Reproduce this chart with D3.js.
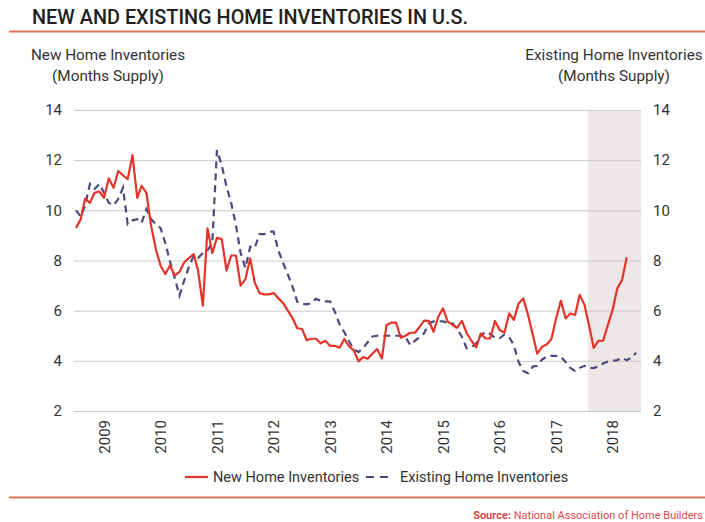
<!DOCTYPE html>
<html>
<head>
<meta charset="utf-8">
<script src="https://cdn.jsdelivr.net/npm/d3@7"></script>
<style>
  html, body { margin: 0; padding: 0; background: #fff; }
  svg { display: block; font-family: Roboto, "Open Sans", sans-serif; }
</style>
</head>
<body>
<svg id="chart" width="705" height="522"></svg>
<script>
// ---- data (monthly, starting Jan 2009) ----
const startYear = 2009;
const newHome = [
  9.3, 9.65, 10.47, 10.3, 10.7, 10.75, 10.5, 11.27, 10.9, 11.57, 11.4, 11.24,
  12.2, 10.5, 10.98, 10.7, 9.4, 8.45, 7.8, 7.46, 7.8, 7.4, 7.55, 7.92,
  8.1, 8.25, 7.6, 6.2, 9.28, 8.3, 8.9, 8.85, 7.6, 8.2, 8.2, 7.0,
  7.26, 8.08, 7.13, 6.7, 6.65, 6.65, 6.7, 6.5, 6.3, 6.0, 5.7, 5.3,
  5.27, 4.82, 4.88, 4.88, 4.7, 4.8, 4.6, 4.6, 4.52, 4.87, 4.58, 4.43,
  3.98, 4.15, 4.08, 4.28, 4.47, 4.09, 5.43, 5.52, 5.52, 4.92, 5.0, 5.12,
  5.12, 5.36, 5.6, 5.59, 5.16, 5.76, 6.09, 5.56, 5.43, 5.32, 5.59, 5.11,
  4.8, 4.54, 5.09, 4.89, 4.89, 5.59, 5.23, 5.13, 5.89, 5.63, 6.29, 6.49,
  5.83, 5.03, 4.29, 4.56, 4.65, 4.87, 5.69, 6.39, 5.69, 5.89, 5.83, 6.63,
  6.23, 5.36, 4.52, 4.8, 4.8, 5.43, 6.03, 6.89, 7.23, 8.13
];
const existingHome = [
  10.0, 9.75, 10.2, 11.05, 10.85, 11.05, 10.7, 10.3, 10.2, 10.45, 10.9, 9.45,
  9.6, 9.65, 9.5, 10.05, 9.65, 9.45, 9.3, 8.7, 7.95, 7.3, 6.6, 7.2,
  7.75, 8.2, 8.1, 8.3, 8.4, 8.7, 12.4, 11.8, 10.95, 10.3, 9.4, 8.3,
  7.7, 8.55, 8.5, 9.05, 9.05, 9.15, 9.15, 8.4, 7.9, 7.45, 6.95, 6.35,
  6.28, 6.25, 6.3, 6.47, 6.4, 6.37, 6.37, 5.96, 5.45, 5.15, 4.77, 4.47,
  4.35, 4.52, 4.74, 4.97, 5.0, 5.0, 5.0, 5.0, 5.0, 5.0, 4.95, 4.63,
  4.8, 4.95, 5.1, 5.49, 5.57, 5.58, 5.57, 5.52, 5.5, 5.27, 4.95, 4.5,
  4.53, 4.7, 5.0, 5.16, 5.07, 4.92, 4.9, 5.05, 4.95, 4.62, 3.95, 3.6,
  3.5, 3.77, 3.8, 4.05, 4.17, 4.2, 4.2, 4.17, 3.95, 3.72, 3.6, 3.72,
  3.8, 3.72, 3.71, 3.78, 3.89, 3.97, 4.0, 4.03, 4.12, 4.02, 4.14, 4.32
];
const yearLabels = ["2009","2010","2011","2012","2013","2014","2015","2016","2017","2018"];
const yTicks = [2, 4, 6, 8, 10, 12, 14];
const shadeStart = "2018-01-23";
const seriesNames = ["New Home Inventories", "Existing Home Inventories"];

// ---- layout ----
const W = 705, H = 522;
const plot = { left: 74, right: 641, top: 110, bottom: 411 };
const svg = d3.select("#chart");

const x = d3.scaleTime()
  .domain([new Date(2009, 0, 1), new Date(2019, 0, 1)])
  .range([76, 641]);
const y = d3.scaleLinear().domain([2, 14]).range([plot.bottom, plot.top]);
const monthDate = i => new Date(startYear, i, 1);

// title
svg.append("text")
  .attr("x", 32).attr("y", 24)
  .attr("font-size", 21).attr("font-weight", 500).attr("fill", "#231f20")
  .attr("textLength", 436).attr("lengthAdjust", "spacingAndGlyphs")
  .text("NEW AND EXISTING HOME INVENTORIES IN U.S.");
svg.append("line").attr("x1", 9).attr("x2", W).attr("y1", 31.5).attr("y2", 31.5)
  .attr("stroke", "#e0735a").attr("stroke-width", 2);

// axis titles
const axTitle = (cx, lines) => {
  lines.forEach((t, i) => {
    svg.append("text").attr("x", cx).attr("y", 60 + i * 21)
      .attr("text-anchor", "middle").attr("font-size", 15.3).attr("fill", "#333")
      .text(t);
  });
};
axTitle(108, ["New Home Inventories", "(Months Supply)"]);
axTitle(614, ["Existing Home Inventories", "(Months Supply)"]);

// shaded region
svg.append("rect")
  .attr("x", x(new Date(shadeStart))).attr("y", plot.top)
  .attr("width", plot.right - x(new Date(shadeStart)))
  .attr("height", plot.bottom - plot.top)
  .attr("fill", "#ede7e7");

// gridlines
svg.append("g").attr("transform", `translate(${plot.left},0)`)
  .call(d3.axisLeft(y).tickValues(yTicks).tickSize(-(plot.right - plot.left)).tickFormat(""))
  .call(g => g.select(".domain").remove())
  .call(g => g.selectAll("line").attr("stroke", "#c9c9c9").attr("stroke-width", 1));

// left axis labels
svg.append("g").attr("transform", `translate(62,0)`)
  .call(d3.axisLeft(y).tickValues(yTicks).tickSize(0).tickPadding(0))
  .call(g => g.select(".domain").remove())
  .call(g => g.selectAll("text").attr("font-size", 15).attr("fill", "#333")
    .attr("font-family", "Roboto, sans-serif"));

// right axis labels
svg.append("g").attr("transform", `translate(653,0)`)
  .call(d3.axisRight(y).tickValues(yTicks).tickSize(0).tickPadding(0))
  .call(g => g.select(".domain").remove())
  .call(g => g.selectAll("text").attr("font-size", 15).attr("fill", "#333")
    .attr("font-family", "Roboto, sans-serif"));

// x axis labels (mid-year, rotated)
const labelDates = yearLabels.map(yl => new Date(+yl, 6, 1));
svg.append("g").attr("transform", `translate(0,${plot.bottom + 9})`)
  .call(d3.axisBottom(x).tickValues(labelDates).tickSize(0).tickFormat(d3.timeFormat("%Y")))
  .call(g => g.select(".domain").remove())
  .call(g => g.selectAll("text")
    .attr("font-size", 15).attr("fill", "#333").attr("font-family", "Roboto, sans-serif")
    .attr("text-anchor", "end")
    .attr("transform", "rotate(-90)")
    .attr("x", 0).attr("y", 0).attr("dx", 0).attr("dy", "0.35em"));

// lines
const line = d3.line().x((d, i) => x(monthDate(i))).y(d => y(d));
svg.append("path").datum(existingHome)
  .attr("d", line).attr("fill", "none")
  .attr("stroke", "#4b4a7e").attr("stroke-width", 2.2)
  .attr("stroke-dasharray", "7,5");
svg.append("path").datum(newHome)
  .attr("d", line).attr("fill", "none")
  .attr("stroke", "#e63329").attr("stroke-width", 2.2)
  .attr("stroke-linejoin", "round");

// legend
const lg = svg.append("g");
lg.append("line").attr("x1", 185).attr("x2", 208).attr("y1", 477).attr("y2", 477)
  .attr("stroke", "#e63329").attr("stroke-width", 2.2);
lg.append("text").attr("x", 213).attr("y", 482).attr("font-size", 14.5).attr("fill", "#333")
  .text(seriesNames[0]);
lg.append("line").attr("x1", 366).attr("x2", 393).attr("y1", 477).attr("y2", 477)
  .attr("stroke", "#4b4a7e").attr("stroke-width", 2.2).attr("stroke-dasharray", "8,6");
lg.append("text").attr("x", 400).attr("y", 482).attr("font-size", 14.5).attr("fill", "#333")
  .text(seriesNames[1]);

// bottom rule + source
svg.append("line").attr("x1", 9).attr("x2", W).attr("y1", 497.5).attr("y2", 497.5)
  .attr("stroke", "#e0735a").attr("stroke-width", 2);
const src = svg.append("text").attr("x", 703).attr("y", 519)
  .attr("text-anchor", "end").attr("font-size", 11).attr("fill", "#e04848");
src.append("tspan").attr("font-weight", 700).text("Source:");
src.append("tspan").text(" National Association of Home Builders");
</script>
</body>
</html>
